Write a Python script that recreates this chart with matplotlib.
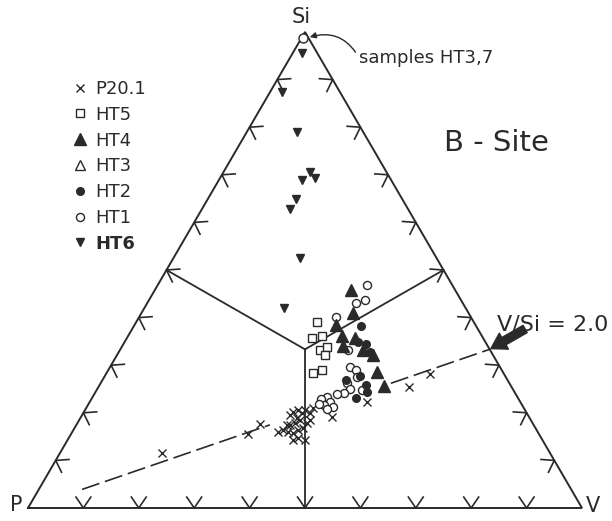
import numpy as np
import matplotlib.pyplot as plt
from matplotlib.lines import Line2D
from matplotlib.patches import FancyArrowPatch

# B-site compositions in percent (V, Si); P makes up the rest
p201_v = [37.1, 37.8, 38.1, 37.5, 37.7, 38.4, 39.5, 39.7, 40.9, 40.9, 38.6, 39.3,
          39.9, 41.5, 41.7, 38.9, 39.9, 40.5, 41.2, 40.6, 41.3, 42.9, 39.1, 45.3,
          50.1, 56.1, 58.5, 18.4, 31.9, 33.1]
p201_si = [16.0, 16.4, 17.4, 19.5, 20.2, 20.6, 20.0, 20.6, 20.0, 21.0, 17.4, 17.9,
           18.5, 17.9, 18.5, 16.0, 15.8, 16.4, 16.8, 14.3, 14.7, 14.3, 18.9, 19.1,
           22.3, 25.4, 28.2, 11.6, 15.5, 17.6]

ht5_v = [32.7, 33.5, 35.1, 36.1, 37.1, 37.5, 37.2, 38.6]
ht5_si = [39.1, 35.7, 36.1, 33.2, 33.8, 32.1, 28.4, 29.0]

ht4_v = [35.4, 38.2, 36.4, 38.6, 39.9, 41.1, 43.9, 46.2, 48.7, 51.5]
ht4_si = [45.8, 41.0, 38.4, 36.1, 34.0, 35.7, 33.2, 32.1, 28.6, 25.6]

ht2_v = [41.0, 42.2, 43.8, 45.3, 46.0, 48.1, 47.6, 49.0, 43.9]
ht2_si = [38.2, 34.9, 34.5, 32.8, 27.7, 25.8, 23.1, 24.4, 26.9]

ht1_v = [37.8, 37.7, 39.0, 35.5, 41.2, 43.3, 44.7, 45.6, 44.5, 45.6, 44.9, 43.8,
         42.3, 41.4, 43.4, 42.6, 44.5, 43.6, 41.6, 47.9]
ht1_si = [46.8, 43.1, 43.7, 40.1, 33.2, 29.6, 29.0, 27.5, 26.3, 25.0, 24.2, 23.9,
          23.3, 22.9, 22.3, 21.6, 21.2, 20.8, 21.8, 24.8]

ht6_v = [1.7, 2.1, 9.1, 15.6, 15.0, 17.1, 15.9, 15.9, 22.8, 25.2]
ht6_si = [95.6, 87.4, 79.0, 70.6, 68.9, 69.3, 64.9, 62.8, 52.5, 42.0]

# HT3 and HT7 plot at the Si apex
apex_v = [0.3]
apex_si = [98.7]

v_si_ratio = 2.0
tick_steps = np.arange(10, 100, 10)

INK = '#2a2a2a'
H = np.sqrt(3) / 2


def tern(v, si):
    v = np.asarray(v, float) / 100
    si = np.asarray(si, float) / 100
    return v + si / 2, si * H


fig = plt.figure(figsize=(6.12, 5.21), dpi=100)
ax = fig.add_axes([0, 0, 1, 1])
ax.set_xlim(-28 / 554, 584 / 554)
ax.set_ylim(-13 / 476 * H, 508 / 476 * H)
ax.axis('off')

# triangle frame
P = np.array([0.0, 0.0])
V = np.array([1.0, 0.0])
S = np.array([0.5, H])
frame = np.array([P, V, S, P])
ax.plot(frame[:, 0], frame[:, 1], color=INK, lw=1.4, solid_joinstyle='miter')

# lines from the centre to each edge midpoint
c = (P + V + S) / 3
for m in [(P + V) / 2, (P + S) / 2, (V + S) / 2]:
    ax.plot([c[0], m[0]], [c[1], m[1]], color=INK, lw=1.3)

# chevron ticks every 10 %, opening into the triangle
edges = [(P, V, (0.0, -1.0)), (P, S, (-H, 0.5)), (V, S, (H, 0.5))]
arm = 0.024
half = np.radians(34)
for a, b, n in edges:
    inward = np.arctan2(-n[1], -n[0])
    for t in tick_steps / 100:
        q = a + t * (b - a)
        e1 = q + arm * np.array([np.cos(inward - half), np.sin(inward - half)])
        e2 = q + arm * np.array([np.cos(inward + half), np.sin(inward + half)])
        ax.plot([e1[0], q[0], e2[0]], [e1[1], q[1], e2[1]], color=INK, lw=1.2)

# V/Si = 2.0 reference line from the P corner
end_x, end_y = tern(100 * v_si_ratio / (1 + v_si_ratio), 100 / (1 + v_si_ratio))
for t0, t1 in [(0.117, 0.524), (0.786, 1.0)]:
    ax.plot([t0 * end_x, t1 * end_x], [t0 * end_y, t1 * end_y], color=INK,
            lw=1.2, dashes=(11, 3.5))

# data points
x, y = tern(p201_v, p201_si)
h_p201, = ax.plot(x, y, 'x', ms=5.3, mew=1.0, color=INK, label='P20.1')
x, y = tern(ht5_v, ht5_si)
h_ht5, = ax.plot(x, y, 's', ms=6, mew=1.0, mfc='white', mec=INK, label='HT5')
x, y = tern(ht1_v, ht1_si)
h_ht1, = ax.plot(x, y, 'o', ms=5.8, mew=1.0, mfc='white', mec=INK, label='HT1')
x, y = tern(ht2_v, ht2_si)
h_ht2, = ax.plot(x, y, 'o', ms=5.5, color=INK, label='HT2')
x, y = tern(ht4_v, ht4_si)
h_ht4, = ax.plot(x, y, '^', ms=9, color=INK, label='HT4')
x, y = tern(ht6_v, ht6_si)
h_ht6, = ax.plot(x, y, 'v', ms=6, color=INK, label='HT6')
x, y = tern(apex_v, apex_si)
ax.plot(x, y, 'o', ms=6.5, mew=1.0, mfc='white', mec=INK)
h_ht3 = Line2D([], [], marker='^', ls='none', ms=7.5, mew=1.0, mfc='white',
               mec=INK, label='HT3')

# annotations
ax.annotate('samples HT3,7', xy=(x[0] + 0.012, y[0] + 0.002),
            xytext=(0.5975, 0.8187), fontsize=13, color=INK, va='center', ha='left',
            arrowprops=dict(arrowstyle='-|>', color=INK, lw=1.0, relpos=(0, 0.5),
                            connectionstyle='arc3,rad=0.4', mutation_scale=9,
                            shrinkA=1, shrinkB=0))

ax.text(0.845, 0.664, 'B - Site', fontsize=21, color=INK, ha='center', va='center')
ax.text(0.846, 0.333, 'V/Si = 2.0', fontsize=16, color=INK, ha='left', va='center')
ax.add_patch(FancyArrowPatch((end_x + 0.064, end_y + 0.037), (end_x, end_y),
                             arrowstyle='simple,head_width=1.1,head_length=0.9,tail_width=0.5',
                             mutation_scale=12, color=INK, shrinkA=0, shrinkB=1))

ax.text(0.4928, 0.8933, 'Si', fontsize=15, color=INK, ha='center', va='center')
ax.text(-0.0217, 0.0055, 'P', fontsize=15, color=INK, ha='center', va='center')
ax.text(1.0199, 0.0036, 'V', fontsize=15, color=INK, ha='center', va='center')

leg = fig.legend(handles=[h_p201, h_ht5, h_ht4, h_ht3, h_ht2, h_ht1, h_ht6],
                 loc='upper left', bbox_to_anchor=(72.8 / 612, 1 - 80 / 521),
                 frameon=False, fontsize=13, handlelength=0.8, handletextpad=0.43,
                 labelspacing=0.43, borderpad=0, borderaxespad=0, numpoints=1)
for t in leg.get_texts():
    t.set_color(INK)
leg.get_texts()[-1].set_fontweight('bold')

fig.savefig('out.png', dpi=100)
